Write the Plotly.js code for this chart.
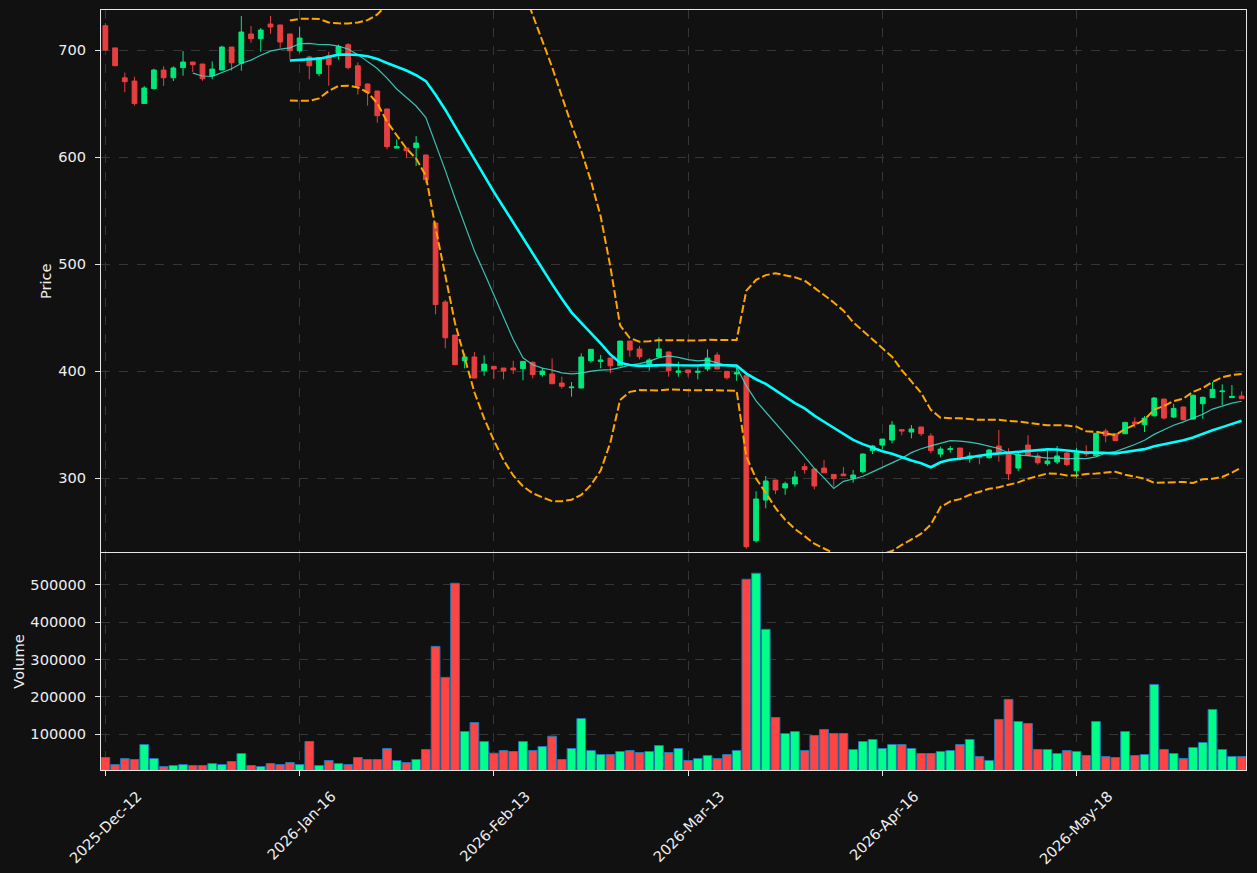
<!DOCTYPE html>
<html>
<head>
<meta charset="utf-8">
<script src="https://cdn.plot.ly/plotly-3.0.1.min.js"></script>
<style>
  html, body { margin: 0; padding: 0; background: #111111; }
  #chart { width: 1257px; height: 873px; }
</style>
</head>
<body>
<div id="chart"></div>
<script>
// ---- Data (one value per trading session) ----
const tickLabels = ['2025-Dec-12', '2026-Jan-16', '2026-Feb-13', '2026-Mar-13', '2026-Apr-16', '2026-May-18'];
const tickSessions = [0, 20, 40, 60, 80, 100];

const openP = [
  722.7, 702, 674, 671, 650, 664, 681.3, 674.1, 683.5, 688.8,
  686.9, 676, 681.3, 702.8, 687.6, 715, 710.6, 724.3, 723.4, 715,
  699.3, 693.5, 677.9, 694.7, 696.9, 705, 685.3, 668.2, 661.7, 644.9,
  608.4, 608.4, 608.7, 601.9, 538.3, 464.5, 433.6, 409.6, 413.1, 400.3,
  404.4, 402.8, 402.8, 402.2, 408.1, 396.6, 397.2, 388.8, 384.4, 384.1,
  409.6, 409, 412.1, 404.9, 428, 420.6, 406.3, 413.4, 417.8, 398.8,
  401, 398.8, 401.9, 414.9, 399.7, 397.2, 395.6, 241.4, 279.4, 298.1,
  290.7, 294.4, 310.6, 308.4, 309.3, 303.4, 303.7, 299.7, 305.9, 325.6,
  330.8, 335.5, 345.2, 343, 347.7, 339.3, 322.4, 326.5, 328, 318.1,
  321.2, 319, 329.9, 323.7, 309.3, 330.8, 320.6, 313.4, 315, 323.4,
  306.8, 323.7, 320.9, 343.9, 341.4, 341.4, 352.3, 349.8, 358.2, 373.8,
  357, 366.4, 355.1, 369.4, 375.1, 380.7, 375.1, 376.6
];
const highP = [
  725, 702, 679, 675, 666.4, 682.5, 684.8, 684.8, 699, 688.8,
  686.9, 689.4, 704, 702.8, 731.8, 722.4, 720.6, 731.8, 723.4, 715,
  721.8, 694.7, 692.8, 698.4, 705, 706.5, 688.5, 668.8, 661.7, 644.9,
  616.5, 608.4, 619.6, 601.9, 539, 466.4, 433.6, 416.5, 417.8, 414.7,
  404.6, 402.8, 409.6, 409.2, 409, 402.8, 411.8, 394.7, 389.7, 416.5,
  420.3, 415, 412.1, 428, 428, 423.4, 412, 431.5, 417.8, 408.7,
  401, 403.4, 420.3, 417.5, 400, 403, 396, 287.6, 301.9, 298.1,
  296.6, 306.5, 313.7, 309, 316.8, 303.4, 310.3, 307.5, 323, 330.8,
  336.4, 353.3, 345.5, 349.5, 347.7, 341.8, 329.3, 329.9, 328, 324,
  321.5, 327, 344.9, 327.8, 324, 339.9, 323.1, 326.2, 329.9, 324,
  327.8, 330.6, 342, 346.1, 341.4, 352.5, 356.7, 357.9, 375.5, 374,
  369.4, 366.5, 378, 376, 389.7, 387.6, 386.9, 381
];
const lowP = [
  699, 685, 660.5, 648, 650, 663, 666.4, 671, 676, 679.4,
  671.3, 672.6, 681.3, 680.7, 680.7, 706.8, 698.4, 715.2, 702, 691.3,
  697.5, 672.6, 675.4, 666.7, 691, 682, 658.3, 648, 632, 607.2,
  608, 598.8, 591.6, 575.4, 453, 421.2, 405.5, 402.5, 393, 395.6,
  392.8, 392.2, 397.2, 391.3, 393.2, 394.7, 388, 383.5, 376, 384.1,
  407.8, 402.5, 397.8, 404.9, 413.4, 410.9, 400.3, 413.4, 394.7, 394.7,
  394.7, 392.2, 399.7, 401.9, 391.9, 390.9, 234, 239.6, 271.7, 285,
  284.4, 291.9, 304, 289.4, 304.9, 291.9, 302.1, 295.6, 304.4, 322.4,
  326.8, 332.4, 339.9, 337.1, 339.3, 323.1, 319.3, 323.7, 316.2, 314.3,
  312.8, 318, 315.2, 298.1, 306.3, 321.5, 312.5, 311.5, 313.1, 311,
  300, 320, 320.9, 333.4, 334.9, 341, 347, 343, 357.5, 354.8,
  356, 354, 354.5, 355.4, 375, 368.2, 375, 374.1
];
const closeP = [
  700, 685.3, 670.4, 650, 664.5, 681.3, 674.1, 683.2, 688.8, 686.3,
  673.2, 682.2, 702.8, 688.1, 716.8, 710.6, 718.7, 721.5, 707.5, 699.3,
  711.2, 685.3, 692.8, 686.3, 703.1, 683.5, 666.4, 660.1, 638.6, 609.7,
  609.7, 605.9, 613.1, 578.8, 462.1, 431.1, 405.9, 413.1, 393.5, 406.5,
  401.9, 400, 401, 409, 396.6, 400, 388.1, 385.7, 385, 413.1,
  420.3, 410.3, 404.9, 428, 419.6, 413.4, 410.3, 420.6, 400.3, 400,
  398.4, 399.7, 412.1, 401.9, 393.7, 398.4, 235.8, 280.4, 297.2, 288.8,
  294.7, 300.9, 307.8, 292.5, 304.9, 299.4, 302.1, 302.8, 322.4, 329.9,
  336.4, 349.5, 343.9, 345.8, 341.4, 325.6, 327.1, 327.4, 318.4, 320.6,
  319, 326.2, 324, 304, 321.8, 321.5, 314.3, 315.9, 320.6, 312.5,
  323.4, 322.4, 341.8, 339.5, 334.9, 352, 350.5, 356, 374.8, 356,
  365.1, 354.5, 377.3, 375.4, 382.9, 381.3, 376.3, 374.1
];
const volume = [
  37400, 18600, 34700, 32000, 72300, 34700, 13300, 16000, 18600, 16000,
  16000, 21300, 18600, 26700, 48200, 16000, 13300, 21300, 18600, 24000,
  18600, 80400, 16000, 29400, 21300, 18600, 37400, 32000, 32000, 61600,
  29400, 24000, 32000, 58900, 335400, 252200, 504600, 107200, 131400, 80400,
  49000, 56200, 53600, 80400, 56200, 67000, 94600, 32000, 61600, 142100,
  56200, 45500, 45500, 53600, 56200, 50900, 53600, 69700, 50900, 61600,
  29400, 34700, 42800, 34700, 45500, 56200, 515300, 531400, 381100, 144800,
  101900, 107200, 56200, 96500, 112600, 101900, 101900, 58900, 80400, 85800,
  61600, 72300, 72300, 61600, 48200, 48200, 53600, 56200, 72300, 85800,
  40100, 29400, 139500, 193200, 134100, 128700, 58900, 58900, 48200, 56200,
  53600, 42800, 134100, 40100, 37400, 107200, 42800, 45500, 233400, 58900,
  48200, 34700, 64300, 77700, 166300, 58900, 40100, 40100
];

// ---- Indicators derived from the closes (as in the original chart) ----
function sma(arr, n) {
  return arr.map((_, i) => {
    if (i < n - 1) return null;
    let s = 0;
    for (let j = i - n + 1; j <= i; j++) s += arr[j];
    return s / n;
  });
}
function rollStd(arr, n) {
  return arr.map((_, i) => {
    if (i < n - 1) return null;
    let s = 0;
    for (let j = i - n + 1; j <= i; j++) s += arr[j];
    const m = s / n;
    let v = 0;
    for (let j = i - n + 1; j <= i; j++) v += (arr[j] - m) * (arr[j] - m);
    return Math.sqrt(v / n);
  });
}
const session = closeP.map((_, i) => i);
const ma10 = sma(closeP, 10);
const ma20 = sma(closeP, 20);
const sd20 = rollStd(closeP, 20);
const bbUp = ma20.map((m, i) => (m === null ? null : m + 2 * sd20[i]));
const bbLo = ma20.map((m, i) => (m === null ? null : m - 2 * sd20[i]));

const UP = '#00ff88', DOWN = '#ff4444';
const UP_C = '#02e77c', DOWN_C = '#e73f3f';
const volColors = closeP.map((c, i) => (c >= openP[i] ? UP : DOWN));

const gridCol = '#363636';
const lineCol = '#e6e6e6';
const fontCol = '#eeeeee';

const traces = [
  {
    type: 'candlestick', x: session, open: openP, high: highP, low: lowP, close: closeP,
    xaxis: 'x', yaxis: 'y',
    increasing: { line: { color: UP_C, width: 1 }, fillcolor: UP_C },
    decreasing: { line: { color: DOWN_C, width: 1 }, fillcolor: DOWN_C },
    hoverinfo: 'skip', showlegend: false
  },
  { type: 'scatter', mode: 'lines', x: session, y: ma10, xaxis: 'x', yaxis: 'y',
    line: { color: '#40e0d0', width: 1.2 }, opacity: 0.85, hoverinfo: 'skip' },
  { type: 'scatter', mode: 'lines', x: session, y: ma20, xaxis: 'x', yaxis: 'y',
    line: { color: '#00ffff', width: 2.6 }, hoverinfo: 'skip' },
  { type: 'scatter', mode: 'lines', x: session, y: bbUp, xaxis: 'x', yaxis: 'y',
    line: { color: '#ffa500', width: 2, dash: '8px,3px' }, hoverinfo: 'skip' },
  { type: 'scatter', mode: 'lines', x: session, y: bbLo, xaxis: 'x', yaxis: 'y',
    line: { color: '#ffa500', width: 2, dash: '8px,3px' }, hoverinfo: 'skip' },
  { type: 'bar', x: session, y: volume, xaxis: 'x2', yaxis: 'y2',
    marker: { color: volColors, line: { color: '#1f77b4', width: 1 } },
    hoverinfo: 'skip' }
];

const axisFont = { family: 'DejaVu Sans, sans-serif', size: 14.6, color: fontCol };
const commonX = {
  range: [-0.45, 117.45],
  tickmode: 'array', tickvals: tickSessions, ticktext: tickLabels,
  showgrid: true, gridcolor: gridCol, griddash: 'dash', gridwidth: 1,
  showline: true, mirror: true, linecolor: lineCol, linewidth: 1,
  ticks: 'outside', ticklen: 5, tickcolor: lineCol, tickwidth: 1,
  zeroline: false, tickfont: axisFont
};
const commonY = {
  showgrid: true, gridcolor: gridCol, griddash: 'dash', gridwidth: 1,
  showline: true, mirror: true, linecolor: lineCol, linewidth: 1,
  ticks: 'outside', ticklen: 5, tickcolor: lineCol, tickwidth: 1,
  zeroline: false, tickfont: axisFont, ticklabelstandoff: 6
};

const layout = {
  width: 1257, height: 873,
  paper_bgcolor: '#111111', plot_bgcolor: '#111111',
  margin: { l: 101, r: 11, t: 10, b: 103 },
  showlegend: false,
  bargap: 0.1,
  font: { family: 'DejaVu Sans, sans-serif', size: 14.6, color: fontCol },
  xaxis: Object.assign({}, commonX, {
    anchor: 'y', domain: [0, 1], showticklabels: false, rangeslider: { visible: false }
  }),
  xaxis2: Object.assign({}, commonX, {
    anchor: 'y2', domain: [0, 1], matches: 'x', tickangle: -45,
    ticklabelshift: 32, ticklabelstandoff: 6
  }),
  yaxis: Object.assign({}, commonY, {
    domain: [0.2862, 1], range: [230.4, 737.4], dtick: 100, tick0: 0,
    title: { text: 'Price', font: axisFont, standoff: 3 }
  }),
  yaxis2: Object.assign({}, commonY, {
    domain: [0, 0.2855], range: [4000, 585600],
    tickmode: 'array', tickvals: [100000, 200000, 300000, 400000, 500000],
    tickformat: 'd',
    title: { text: 'Volume', font: axisFont, standoff: 2 }
  })
};

Plotly.newPlot('chart', traces, layout, { staticPlot: true, displayModeBar: false });
</script>
</body>
</html>
